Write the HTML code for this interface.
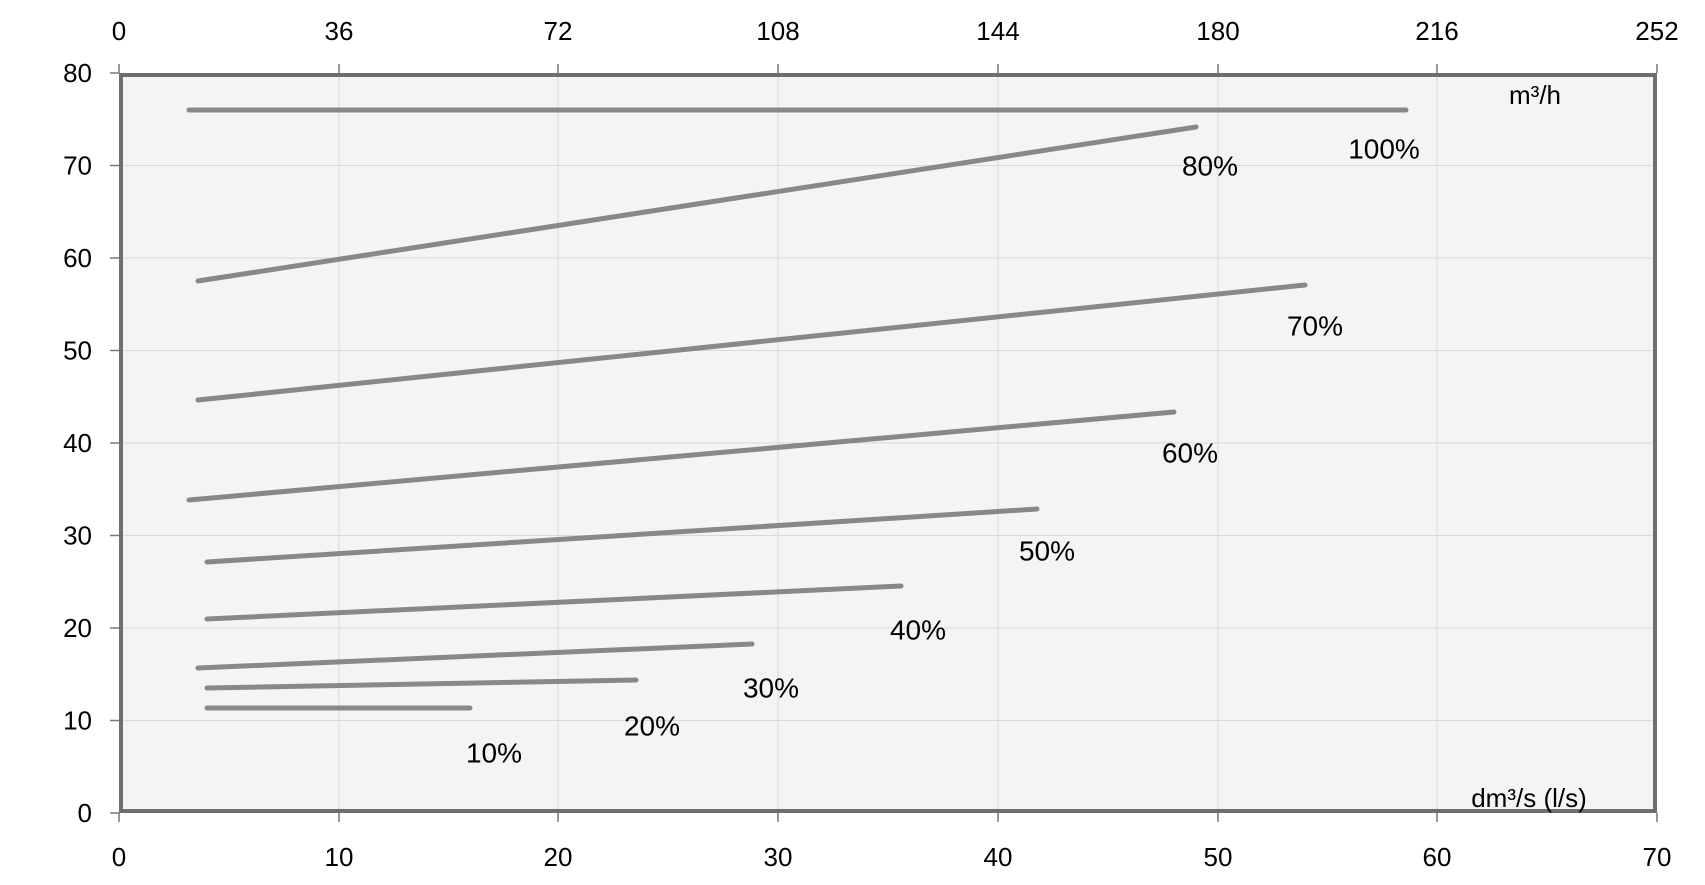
<!DOCTYPE html>
<html><head><style>body{margin:0;background:#fff}svg{display:block}</style></head>
<body>
<svg width="1705" height="885" viewBox="0 0 1705 885" font-family="Liberation Sans, sans-serif" font-size="26" fill="#000">
<rect x="119" y="73" width="1538" height="740" fill="#f4f4f4"/>
<g stroke="#d9d9d9" stroke-width="1">
<line x1="339" y1="73" x2="339" y2="813"/><line x1="558" y1="73" x2="558" y2="813"/><line x1="778" y1="73" x2="778" y2="813"/><line x1="998" y1="73" x2="998" y2="813"/><line x1="1218" y1="73" x2="1218" y2="813"/><line x1="1437" y1="73" x2="1437" y2="813"/>
<line x1="119" y1="165.5" x2="1657" y2="165.5"/><line x1="119" y1="258" x2="1657" y2="258"/><line x1="119" y1="350.5" x2="1657" y2="350.5"/><line x1="119" y1="443" x2="1657" y2="443"/><line x1="119" y1="535.5" x2="1657" y2="535.5"/><line x1="119" y1="628" x2="1657" y2="628"/><line x1="119" y1="720.5" x2="1657" y2="720.5"/>
</g>
<g stroke="#777" stroke-width="1.5">
<line x1="339" y1="64" x2="339" y2="73"/><line x1="558" y1="64" x2="558" y2="73"/><line x1="778" y1="64" x2="778" y2="73"/><line x1="998" y1="64" x2="998" y2="73"/><line x1="1218" y1="64" x2="1218" y2="73"/><line x1="1437" y1="64" x2="1437" y2="73"/><line x1="1657" y1="64" x2="1657" y2="73"/><line x1="119" y1="64" x2="119" y2="73"/>
<line x1="339" y1="813" x2="339" y2="822"/><line x1="558" y1="813" x2="558" y2="822"/><line x1="778" y1="813" x2="778" y2="822"/><line x1="998" y1="813" x2="998" y2="822"/><line x1="1218" y1="813" x2="1218" y2="822"/><line x1="1437" y1="813" x2="1437" y2="822"/><line x1="1657" y1="813" x2="1657" y2="822"/><line x1="119" y1="813" x2="119" y2="822"/>
<line x1="110" y1="73" x2="119" y2="73"/><line x1="110" y1="165.5" x2="119" y2="165.5"/><line x1="110" y1="258" x2="119" y2="258"/><line x1="110" y1="350.5" x2="119" y2="350.5"/><line x1="110" y1="443" x2="119" y2="443"/><line x1="110" y1="535.5" x2="119" y2="535.5"/><line x1="110" y1="628" x2="119" y2="628"/><line x1="110" y1="720.5" x2="119" y2="720.5"/><line x1="110" y1="813" x2="119" y2="813"/>
</g>
<rect x="121" y="75" width="1534" height="736" fill="none" stroke="#6e6e6e" stroke-width="4"/>
<g stroke="#888" stroke-width="5" stroke-linecap="round" fill="none">
<line x1="189" y1="110" x2="1406" y2="110"/>
<line x1="198" y1="281" x2="1196" y2="127"/>
<line x1="198" y1="400" x2="1305" y2="285"/>
<line x1="189" y1="500" x2="1174" y2="412"/>
<line x1="207" y1="562" x2="1037" y2="509"/>
<line x1="207" y1="619" x2="901" y2="586"/>
<line x1="198" y1="668" x2="752" y2="644"/>
<line x1="207" y1="688" x2="636" y2="680"/>
<line x1="207" y1="708" x2="470" y2="708"/>
</g>
<g text-anchor="middle" dominant-baseline="central">
<text x="119" y="31">0</text><text x="339" y="31">36</text><text x="558" y="31">72</text><text x="778" y="31">108</text><text x="998" y="31">144</text><text x="1218" y="31">180</text><text x="1437" y="31">216</text><text x="1657" y="31">252</text>
<text x="119" y="857">0</text><text x="339" y="857">10</text><text x="558" y="857">20</text><text x="778" y="857">30</text><text x="998" y="857">40</text><text x="1218" y="857">50</text><text x="1437" y="857">60</text><text x="1657" y="857">70</text>
<text x="1384" y="149" font-size="28">100%</text><text x="1210" y="166" font-size="28">80%</text><text x="1315" y="326" font-size="28">70%</text><text x="1190" y="453" font-size="28">60%</text><text x="1047" y="551" font-size="28">50%</text><text x="918" y="630" font-size="28">40%</text><text x="771" y="688" font-size="28">30%</text><text x="652" y="726" font-size="28">20%</text><text x="494" y="753" font-size="28">10%</text>
<text x="1535" y="95">m³/h</text><text x="1529" y="798">dm³/s (l/s)</text>
</g>
<g text-anchor="end" dominant-baseline="central">
<text x="92" y="73">80</text><text x="92" y="165.5">70</text><text x="92" y="258">60</text><text x="92" y="350.5">50</text><text x="92" y="443">40</text><text x="92" y="535.5">30</text><text x="92" y="628">20</text><text x="92" y="720.5">10</text><text x="92" y="813">0</text>
</g>
</svg>
</body></html>
